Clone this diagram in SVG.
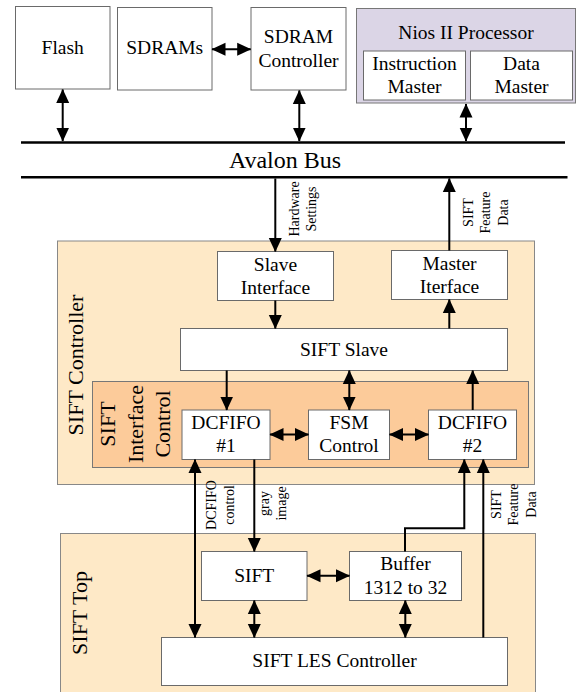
<svg xmlns="http://www.w3.org/2000/svg" width="576" height="692" viewBox="0 0 576 692">
<style>
text{font-family:'Liberation Serif','DejaVu Serif','Times New Roman',serif;fill:#000}
.b{fill:#fff;stroke:#6a6a6a;stroke-width:1}
.t{font-size:19.5px;text-anchor:middle}
.s{font-size:14px;text-anchor:middle}
.g{font-size:22px;text-anchor:middle}
.ln{stroke:#000;stroke-width:2;fill:none}
.bus{stroke:#000;stroke-width:2.6}
</style>
<defs>
<marker id="ah" markerUnits="userSpaceOnUse" markerWidth="15" markerHeight="14" refX="13.5" refY="7" orient="auto-start-reverse" viewBox="0 0 15 14">
<path d="M0,0.5 L14,7 L0,13.5 z" fill="#000"/>
</marker>
</defs>
<rect width="576" height="692" fill="#fff"/>
<g font-family="Liberation Serif, DejaVu Serif, serif">
<g id="sift-controller">
<rect x="57.5" y="241" width="477" height="243.5" fill="#fee9c7" stroke="#888" stroke-width="1"/>
<text class="g" transform="translate(83,365) rotate(-90)">SIFT Controller</text>
</g>
<g id="sift-interface-control">
<rect x="92.5" y="381.5" width="436" height="86" fill="#fccb9a" stroke="#777" stroke-width="1"/>
<text class="g" transform="translate(115,424) rotate(-90)">SIFT</text>
<text class="g" transform="translate(143,424) rotate(-90)">Interface</text>
<text class="g" transform="translate(170,424) rotate(-90)">Control</text>
</g>
<g id="sift-top">
<rect x="60.5" y="533.5" width="475" height="170" fill="#fee9c7" stroke="#888" stroke-width="1"/>
<text class="g" transform="translate(86.5,613) rotate(-90)">SIFT Top</text>
</g>

<g id="flash"><rect class="b" x="15.5" y="6.5" width="94.5" height="82.5"/><text class="t" x="62.7" y="53.5">Flash</text></g>
<g id="sdrams"><rect class="b" x="117.5" y="7.5" width="94.5" height="82.5"/><text class="t" x="164.7" y="53.5">SDRAMs</text></g>
<g id="sdram-controller"><rect class="b" x="251" y="7.5" width="95" height="82.5"/><text class="t" x="298.5" y="43">SDRAM</text><text class="t" x="298.5" y="67">Controller</text></g>
<g id="nios">
<rect x="356.5" y="8.5" width="219" height="94.5" fill="#dbd5e6" stroke="#777" stroke-width="1"/>
<text class="t" x="466" y="38.5">Nios II Processor</text>
<g id="instruction-master"><rect class="b" x="363.5" y="51" width="102" height="49"/><text class="t" x="414.5" y="69.5">Instruction</text><text class="t" x="414.5" y="93">Master</text></g>
<g id="data-master"><rect class="b" x="470.5" y="51" width="102" height="49"/><text class="t" x="521.5" y="69.5">Data</text><text class="t" x="521.5" y="93">Master</text></g>
</g>

<g id="avalon-bus">
<line class="bus" x1="21" y1="142.5" x2="565" y2="142.5"/>
<line class="bus" x1="21" y1="177.3" x2="567.5" y2="177.3"/>
<text x="285" y="168" style="font-size:24px;text-anchor:middle">Avalon Bus</text>
</g>

<g id="slave-interface"><rect class="b" x="217.5" y="251.5" width="116" height="49"/><text class="t" x="275.5" y="270.5">Slave</text><text class="t" x="275.5" y="294">Interface</text></g>
<g id="master-iterface"><rect class="b" x="391.5" y="250.5" width="116" height="49"/><text class="t" x="449.5" y="269.5">Master</text><text class="t" x="449.5" y="293">Iterface</text></g>
<g id="sift-slave"><rect class="b" x="180.5" y="328.5" width="327" height="42"/><text class="t" x="344" y="355.5">SIFT Slave</text></g>
<g id="dcfifo1"><rect class="b" x="182" y="410" width="88" height="49.5"/><text class="t" x="226" y="428.5">DCFIFO</text><text class="t" x="226" y="452">#1</text></g>
<g id="fsm-control"><rect class="b" x="308.5" y="410" width="81" height="49.5"/><text class="t" x="349" y="428.5">FSM</text><text class="t" x="349" y="452">Control</text></g>
<g id="dcfifo2"><rect class="b" x="428.5" y="410" width="88" height="49.5"/><text class="t" x="472.5" y="428.5">DCFIFO</text><text class="t" x="472.5" y="452">#2</text></g>
<g id="sift"><rect class="b" x="201.5" y="551.5" width="105.5" height="49"/><text class="t" x="254.2" y="582">SIFT</text></g>
<g id="buffer"><rect class="b" x="349.5" y="551.5" width="112" height="49"/><text class="t" x="405.5" y="570">Buffer</text><text class="t" x="405.5" y="593.5">1312 to 32</text></g>
<g id="sift-les-controller"><rect class="b" x="161.5" y="637.5" width="346" height="48"/><text class="t" x="334.5" y="667">SIFT LES Controller</text></g>

<g id="connectors">
<line class="ln" x1="212" y1="49.3" x2="250.7" y2="49.3" marker-start="url(#ah)" marker-end="url(#ah)"/>
<line class="ln" x1="62.7" y1="89.5" x2="62.7" y2="141" marker-start="url(#ah)" marker-end="url(#ah)"/>
<line class="ln" x1="299.3" y1="90.5" x2="299.3" y2="141" marker-start="url(#ah)" marker-end="url(#ah)"/>
<line class="ln" x1="466" y1="104" x2="466" y2="141" marker-start="url(#ah)" marker-end="url(#ah)"/>
<line class="ln" x1="275.3" y1="178.5" x2="275.3" y2="251.5" marker-end="url(#ah)"/>
<line class="ln" x1="449.3" y1="250.5" x2="449.3" y2="178.5" marker-end="url(#ah)"/>
<line class="ln" x1="275.3" y1="300.5" x2="275.3" y2="328.5" marker-end="url(#ah)"/>
<line class="ln" x1="449.3" y1="328.5" x2="449.3" y2="299.5" marker-end="url(#ah)"/>
<line class="ln" x1="226.7" y1="370.5" x2="226.7" y2="410" marker-end="url(#ah)"/>
<line class="ln" x1="349.3" y1="370.5" x2="349.3" y2="410" marker-start="url(#ah)" marker-end="url(#ah)"/>
<line class="ln" x1="472.7" y1="410" x2="472.7" y2="370.5" marker-end="url(#ah)"/>
<line class="ln" x1="270" y1="434.5" x2="308.5" y2="434.5" marker-start="url(#ah)" marker-end="url(#ah)"/>
<line class="ln" x1="389.5" y1="434.5" x2="428.5" y2="434.5" marker-start="url(#ah)" marker-end="url(#ah)"/>
<line class="ln" x1="195" y1="459.5" x2="195" y2="637.5" marker-start="url(#ah)" marker-end="url(#ah)"/>
<line class="ln" x1="254.3" y1="459.5" x2="254.3" y2="551.5" marker-end="url(#ah)"/>
<path class="ln" d="M405,551.5 V528.3 H464.3 V459.5" marker-end="url(#ah)"/>
<line class="ln" x1="483.3" y1="637.5" x2="483.3" y2="459.5" marker-end="url(#ah)"/>
<line class="ln" x1="307" y1="575.7" x2="349.5" y2="575.7" marker-start="url(#ah)" marker-end="url(#ah)"/>
<line class="ln" x1="254.3" y1="600.5" x2="254.3" y2="637.5" marker-start="url(#ah)" marker-end="url(#ah)"/>
<line class="ln" x1="405.3" y1="600.5" x2="405.3" y2="637.5" marker-start="url(#ah)" marker-end="url(#ah)"/>
<g id="connector-labels">
<text class="s" transform="translate(298.5,209) rotate(-90)">Hardware</text>
<text class="s" transform="translate(316,209) rotate(-90)">Settings</text>
<text class="s" transform="translate(472.5,212.5) rotate(-90)">SIFT</text>
<text class="s" transform="translate(490,212.5) rotate(-90)">Feature</text>
<text class="s" transform="translate(507.5,212.5) rotate(-90)">Data</text>
<text class="s" transform="translate(216,505) rotate(-90)">DCFIFO</text>
<text class="s" transform="translate(233.5,505) rotate(-90)">control</text>
<text class="s" transform="translate(268.5,503.5) rotate(-90)">gray</text>
<text class="s" transform="translate(285.5,503.5) rotate(-90)">image</text>
<text class="s" transform="translate(501,504.5) rotate(-90)">SIFT</text>
<text class="s" transform="translate(518,504.5) rotate(-90)">Feature</text>
<text class="s" transform="translate(535.5,504.5) rotate(-90)">Data</text>
</g>
</g>
</g>
</svg>
